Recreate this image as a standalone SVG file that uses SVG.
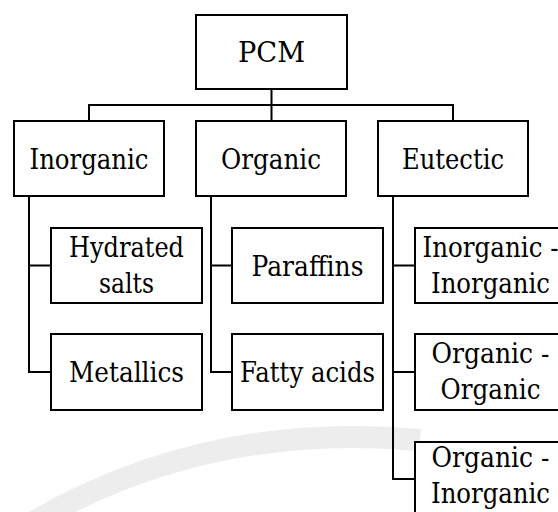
<svg xmlns="http://www.w3.org/2000/svg" width="558" height="512" viewBox="0 0 558 512">
<style>
.box{fill:#fff;stroke:#000;stroke-width:2}
.lbl{font-family:"DejaVu Serif",serif;font-size:28px;fill:#000;text-anchor:middle}
.con{fill:none;stroke:#000;stroke-width:2;stroke-linecap:square}
.wm{fill:none;stroke:#ededed;stroke-width:22}
</style>
<rect width="558" height="512" fill="#fff"/>
<path class="wm" d="M 20 530 Q 200 420 420 440"/>
<g id="connectors">
<path class="con" d="M271.5 89V105M89 105H453M89 105V121M271.5 105V121M453 105V121"/>
<path class="con" d="M29 196V372M29 265.5H51M29 372H51"/>
<path class="con" d="M211 196V372M211 265.5H232M211 372H232"/>
<path class="con" d="M393 196V479M393 265.5H415M393 372H415M393 479H415"/>
</g>
<g id="pcm"><rect class="box" x="196" y="15" width="151" height="74"/><text class="lbl" x="271.5" y="62" textLength="67" lengthAdjust="spacingAndGlyphs">PCM</text></g>
<g id="inorganic"><rect class="box" x="14" y="121" width="150" height="75"/><text class="lbl" x="89" y="169" textLength="119" lengthAdjust="spacingAndGlyphs">Inorganic</text></g>
<g id="organic"><rect class="box" x="196" y="121" width="150" height="75"/><text class="lbl" x="271" y="169" textLength="100" lengthAdjust="spacingAndGlyphs">Organic</text></g>
<g id="eutectic"><rect class="box" x="378" y="121" width="150" height="75"/><text class="lbl" x="453" y="169" textLength="102" lengthAdjust="spacingAndGlyphs">Eutectic</text></g>
<g id="hydrated"><rect class="box" x="51" y="228" width="151" height="75"/><text class="lbl" x="126.5" y="257" textLength="115" lengthAdjust="spacingAndGlyphs">Hydrated</text><text class="lbl" x="126.5" y="292.5" textLength="55" lengthAdjust="spacingAndGlyphs">salts</text></g>
<g id="metallics"><rect class="box" x="51" y="334" width="151" height="76"/><text class="lbl" x="126.5" y="382" textLength="115" lengthAdjust="spacingAndGlyphs">Metallics</text></g>
<g id="paraffins"><rect class="box" x="232" y="228" width="151" height="75"/><text class="lbl" x="307.5" y="276" textLength="112" lengthAdjust="spacingAndGlyphs">Paraffins</text></g>
<g id="fatty"><rect class="box" x="232" y="334" width="151" height="76"/><text class="lbl" x="307.5" y="382" textLength="135" lengthAdjust="spacingAndGlyphs">Fatty acids</text></g>
<g id="inorg-inorg"><rect class="box" x="415" y="228" width="151" height="75"/><text class="lbl" x="490.5" y="257" textLength="136" lengthAdjust="spacingAndGlyphs">Inorganic -</text><text class="lbl" x="490.5" y="292.5" textLength="119" lengthAdjust="spacingAndGlyphs">Inorganic</text></g>
<g id="org-org"><rect class="box" x="415" y="334" width="151" height="76"/><text class="lbl" x="490.5" y="363" textLength="118" lengthAdjust="spacingAndGlyphs">Organic -</text><text class="lbl" x="490.5" y="398.5" textLength="100" lengthAdjust="spacingAndGlyphs">Organic</text></g>
<g id="org-inorg"><rect class="box" x="415" y="442" width="151" height="76"/><text class="lbl" x="490.5" y="467" textLength="118" lengthAdjust="spacingAndGlyphs">Organic -</text><text class="lbl" x="490.5" y="502.5" textLength="119" lengthAdjust="spacingAndGlyphs">Inorganic</text></g>
</svg>
